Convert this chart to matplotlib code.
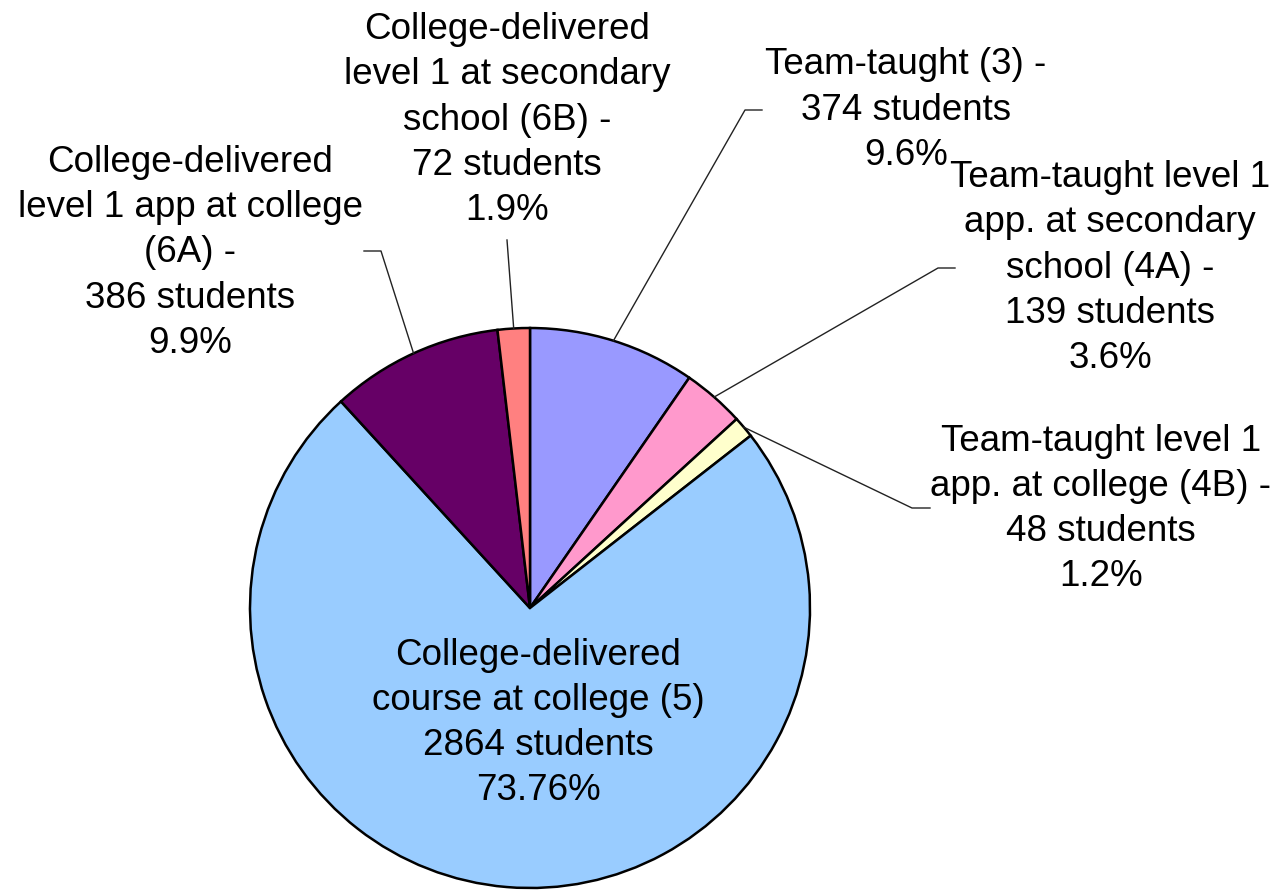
import numpy as np
import matplotlib
matplotlib.use('Agg')
import matplotlib.pyplot as plt

plt.rcParams['font.family'] = ['Liberation Sans', 'DejaVu Sans']

# slices, clockwise from 12 o'clock
names = ['Team-taught (3) -',
         'Team-taught level 1\napp. at secondary\nschool (4A) -',
         'Team-taught level 1\napp. at college (4B) -',
         'College-delivered\ncourse at college (5)',
         'College-delivered\nlevel 1 app at college\n(6A) -',
         'College-delivered\nlevel 1 at secondary\nschool (6B) -']
students = [374, 139, 48, 2864, 386, 72]
percents = ['9.6%', '3.6%', '1.2%', '73.76%', '9.9%', '1.9%']
colors = ['#9999FF', '#FF99CC', '#FFFFCC', '#99CCFF', '#660066', '#FF8080']

# layout (pixel coords, y measured from top)
W, H = 1280, 892
cx, cy, R = 530, 608, 280
label_pos = [(906, 110), (1110, 268), (1101, 509), (538, 723), (190, 253), (507, 120)]
elbows = [(745, 110, 762), (938, 268, 955), (912, 508, 930), None, (381, 251, 364), (507, 240, 507)]

fig = plt.figure(figsize=(W / 100, H / 100), dpi=100)
ax = fig.add_axes([0, 0, 1, 1])

ax.pie(students, colors=colors, startangle=90, counterclock=False,
       center=(cx, H - cy), radius=R,
       wedgeprops=dict(edgecolor='black', linewidth=1.8))
ax.set_aspect('auto')
ax.set_xlim(0, W)
ax.set_ylim(0, H)
ax.axis('off')

total = sum(students)
cum = np.cumsum([0] + students)
for i, (name, n, pct) in enumerate(zip(names, students, percents)):
    mid = 90 - (cum[i] + n / 2) / total * 360
    if elbows[i] is not None:
        x0 = cx + R * np.cos(np.radians(mid))
        y0 = H - cy + R * np.sin(np.radians(mid))
        ex, ey, hx = elbows[i]
        ax.plot([x0, ex, hx], [y0, H - ey, H - ey], color='#222222', lw=1)
    text = name + '\n%d students\n%s' % (n, pct)
    lx, ly = label_pos[i]
    ax.text(lx, H - ly, text, ha='center', va='center', fontsize=26.5,
            linespacing=1.38, color='black')

fig.savefig('out.png', dpi=100)
